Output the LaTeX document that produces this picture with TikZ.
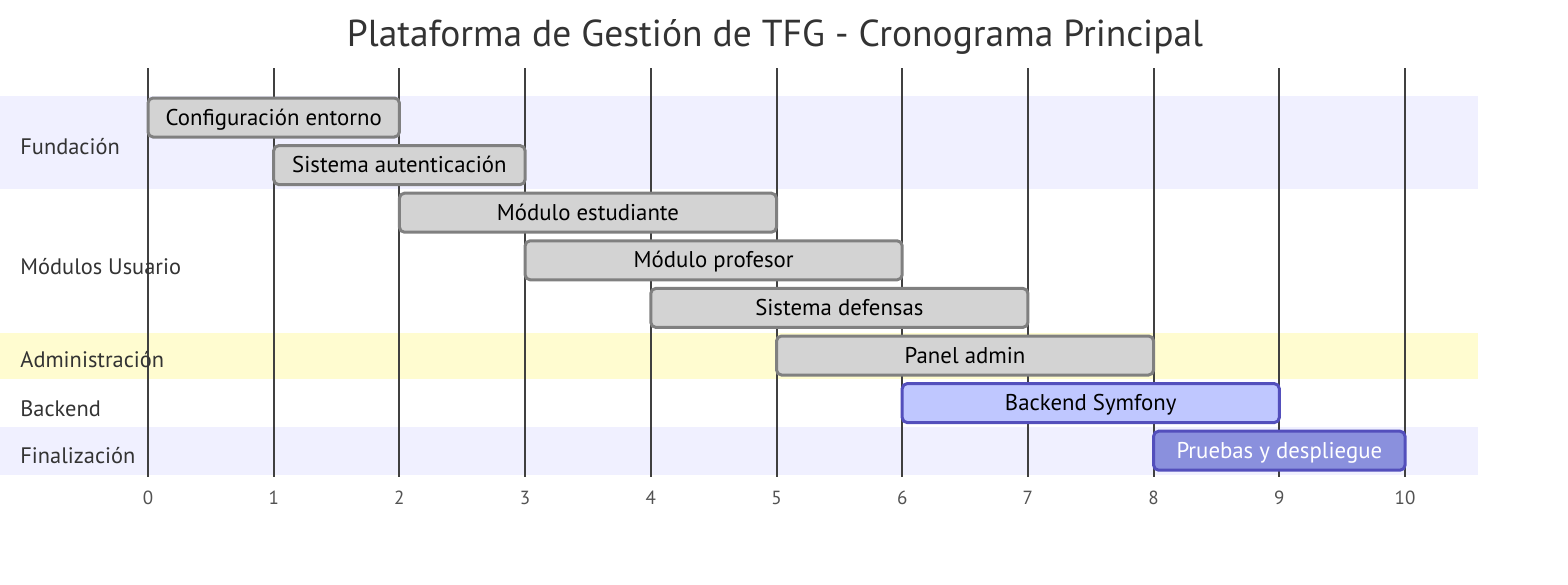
\documentclass[tikz,border=0pt]{standalone}
\usepackage{fontspec}
\setmainfont{PT Sans}
\usetikzlibrary{positioning}
\definecolor{bandalila}{RGB}{240,240,255}
\definecolor{bandaamar}{RGB}{255,252,208}
\definecolor{barragris}{RGB}{211,211,211}
\definecolor{bordegris}{RGB}{128,128,128}
\definecolor{barraazul}{RGB}{191,199,255}
\definecolor{barraosc}{RGB}{138,144,221}
\definecolor{bordeazul}{RGB}{83,79,188}
\definecolor{textogris}{RGB}{51,51,51}
\tikzset{
	tarea/.style={draw=bordegris,fill=barragris,line width=1.5pt,rounded corners=2.5pt,minimum height=19.5pt,inner sep=0pt,outer sep=0pt,anchor=west,text height=1.5ex,text depth=0pt,font=\fontsize{11.4}{13}\selectfont},
	tareaact/.style={tarea,draw=bordeazul,fill=barraazul},
	tareacrit/.style={tarea,draw=bordeazul,fill=barraosc,text=white},
	seccion/.style={anchor=west,inner sep=0pt,text=textogris,font=\fontsize{11.2}{13}\selectfont},
	eje/.style={text=textogris!85,inner sep=0pt,text height=1.5ex,text depth=0pt,font=\fontsize{9.5}{11}\selectfont},
}
\begin{document}
\begin{tikzpicture}[x=.5pt,y=-.5pt]
	\useasboundingbox (0,0) rectangle (1568,584);
	\fill[bandalila] (0,96) rectangle (1478,189);%Fundacion
	\fill[bandaamar] (0,333) rectangle (1478,379);%Administracion
	\fill[bandalila] (0,427) rectangle (1478,475);%Finalizacion
	\node[text=textogris,font=\fontsize{18.75}{21}\selectfont] (titulo) at (775,37) {Plataforma de Gestión de TFG - Cronograma Principal};
	\foreach \i in {0,...,10}{
		\draw[line width=1pt,black!75] ({148+\i*125.7},68) coordinate (g\i) -- ({148+\i*125.7},477) coordinate (b\i);
		\node[eje,below=6pt of b\i] (t\i) {\i};
	}
	\node[seccion] (sfund) at (20,147) {Fundación};
	\node[seccion] (smod) at (20,267) {Módulos Usuario};
	\node[seccion] (sadm) at (20,360) {Administración};
	\node[seccion] (sback) at (20,409) {Backend};
	\node[seccion] (sfin) at (20,456) {Finalización};
	\foreach \s/\e/\f/\st/\txt in {0/2/0/tarea/Configuración entorno,1/3/1/tarea/Sistema autenticación,2/5/2/tarea/Módulo estudiante,3/6/3/tarea/Módulo profesor,4/7/4/tarea/Sistema defensas,5/8/5/tarea/Panel admin,6/9/6/tareaact/Backend Symfony,8/10/7/tareacrit/Pruebas y despliegue}
		\node[\st,minimum width={(\e-\s)*62.85pt}] (tarea\f) at ({148+\s*125.7},{117.5+\f*47.6}) {\txt};
\end{tikzpicture}
\end{document}
